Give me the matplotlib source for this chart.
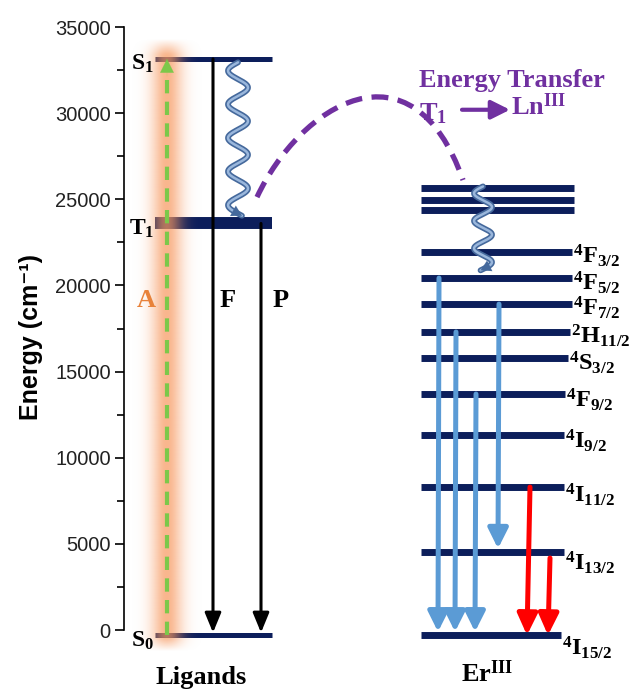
import numpy as np
import matplotlib.pyplot as plt
from matplotlib.path import Path
from matplotlib.patches import PathPatch

plt.rcParams['mathtext.fontset'] = 'custom'
plt.rcParams['mathtext.rm'] = 'Liberation Serif:bold'
plt.rcParams['mathtext.it'] = 'Liberation Serif:bold'
plt.rcParams['mathtext.bf'] = 'Liberation Serif:bold'

# ligand states (cm-1)
lig_names = [r'$\mathrm{S_0}$', r'$\mathrm{T_1}$', r'$\mathrm{S_1}$']
lig_energy = [-300, 23600, 33150]

# Er(III) levels (cm-1)
er_top = [25650, 24960, 24380]
er_names = [r'$\mathrm{{}^4F_{3/2}}$', r'$\mathrm{{}^4F_{5/2}}$', r'$\mathrm{{}^4F_{7/2}}$',
            r'$\mathrm{{}^2H_{11/2}}$', r'$\mathrm{{}^4S_{3/2}}$', r'$\mathrm{{}^4F_{9/2}}$',
            r'$\mathrm{{}^4I_{9/2}}$', r'$\mathrm{{}^4I_{11/2}}$', r'$\mathrm{{}^4I_{13/2}}$',
            r'$\mathrm{{}^4I_{15/2}}$']
er_energy = [21940, 20430, 18920, 17300, 15790, 13700, 11320, 8300, 4530, -300]

# emissions (start, end) in cm-1
blue_from = [20430, 17300, 13700, 18920]
blue_to = [-300, -300, -300, 4530]
red_from = [8300, 4180]
red_to = [-300, -300]

yticks = [0, 5000, 10000, 15000, 20000, 25000, 30000, 35000]

navy = '#0c1e5b'
purple = '#7030a0'

fig = plt.figure(figsize=(6.32, 6.89), dpi=100)
ax = fig.add_axes([0, 0, 1, 1])
ax.set_xlim(0, 632)
ax.set_ylim(-3420, 36570)

# axis
for s in ['top', 'right', 'bottom']:
    ax.spines[s].set_visible(False)
ax.spines['left'].set_position(('data', 124))
ax.spines['left'].set_bounds(0, 35000)
ax.spines['left'].set_linewidth(1.2)
ax.set_xticks([])
ax.set_yticks(yticks)
ax.set_yticks(np.arange(0, 35001, 2500), minor=True)
ax.tick_params(axis='y', which='major', length=6.5, width=1.2, labelsize=14.5, pad=3,
               labelcolor='#222222')
ax.tick_params(axis='y', which='minor', length=5, width=1.2)
for lab in ax.get_yticklabels():
    lab.set_fontfamily('Liberation Sans')
ax.text(31, 17000, 'Energy (cm⁻¹)', rotation=90, ha='center', va='center',
        fontsize=18, fontweight='bold', family=['Liberation Sans', 'DejaVu Sans'])

# ligand levels
lig_lw = [3.6, 8.6, 3.6]
for e, lw in zip(lig_energy, lig_lw):
    ax.plot([155, 272], [e, e], color=navy, lw=lw, solid_capstyle='butt', zorder=2)
for name, e in zip(lig_names, lig_energy):
    ax.text(154, e - 250, name, ha='right', va='center', fontsize=17, zorder=5)

# orange glow behind excitation
gx = np.linspace(130, 205, 150)
gy = np.linspace(-1300, 34300, 300)
GX, GY = np.meshgrid(gx, gy)
alpha = np.exp(-((GX - 167) ** 2) / (2 * 11.0 ** 2))
taper = np.clip((GY + 1300) / 800, 0, 1) * np.clip((34300 - GY) / 900, 0, 1)
img = np.zeros(GX.shape + (4,))
img[..., 0] = 0.97
img[..., 1] = 0.60
img[..., 2] = 0.38
img[..., 3] = 0.72 * alpha * taper
ax.imshow(img, extent=[130, 205, -1300, 34300], origin='lower', aspect='auto', zorder=3,
          interpolation='bilinear')
ax.set_xlim(0, 632)
ax.set_ylim(-3420, 36570)

# absorption (green dashed)
ax.plot([167, 167], [lig_energy[0], lig_energy[2] - 900], color='#7cc84a', lw=3,
        dashes=(3.2, 2.0), zorder=4)
ax.annotate('', xy=(167, lig_energy[2]), xytext=(167, lig_energy[2] - 1000),
            arrowprops=dict(arrowstyle='-|>,head_length=0.7,head_width=0.35', color='#7cc84a',
                            lw=0.1, mutation_scale=14, shrinkA=0, shrinkB=0), zorder=4)
ax.text(146, 19150, 'A', color='#e8823a', fontsize=19, fontweight='bold',
        family='Liberation Serif', ha='center', va='center', zorder=5)

# fluorescence / phosphorescence
for x, e0 in [(213, lig_energy[2]), (261, lig_energy[1])]:
    ax.annotate('', xy=(x, lig_energy[0] + 150), xytext=(x, e0),
                arrowprops=dict(arrowstyle='-|>,head_length=0.85,head_width=0.35', color='black',
                                lw=2.2, mutation_scale=14, shrinkA=0, shrinkB=0), zorder=4)
ax.text(228, 19150, 'F', fontsize=19, fontweight='bold', family='Liberation Serif',
        ha='center', va='center')
ax.text(281, 19150, 'P', fontsize=19, fontweight='bold', family='Liberation Serif',
        ha='center', va='center')


def wavy(xc, e0, e1, amp, lam):
    y = np.linspace(e0, e1, 300)
    x = xc + amp * np.sin(2 * np.pi * (y - e0) / lam)
    ax.plot(x, y, color='#45699c', lw=4.2, zorder=6, solid_capstyle='round')
    ax.plot(x, y, color='#9ab7dc', lw=1.8, zorder=6, solid_capstyle='round')
    ax.annotate('', xy=(x[-1], y[-1]), xytext=(x[-8], y[-8]),
                arrowprops=dict(arrowstyle='-|>,head_length=0.6,head_width=0.35',
                                color='#45699c', lw=0.1, mutation_scale=12,
                                shrinkA=0, shrinkB=0), zorder=6)


wavy(238, lig_energy[2] - 200, lig_energy[1] + 450, 10, 1950)

# Er levels
er_right = [572, 572, 572, 570, 568, 565, 564, 564, 564, 561]
for e in er_top:
    ax.plot([421, 574], [e, e], color=navy, lw=5, solid_capstyle='butt', zorder=2)
for e, r in zip(er_energy, er_right):
    ax.plot([421, r], [e, e], color=navy, lw=5, solid_capstyle='butt', zorder=2)
lab_off = [11, 12, 11, 11, 12, 13, 13, 15, 18, 20]
for name, e, r, off in zip(er_names, er_energy, er_right, lab_off):
    ax.text(r + 1, e - off / 0.017229, name, ha='left', va='baseline', fontsize=17.5)

wavy(483, er_top[0] + 100, er_energy[1] + 450, 9, 1600)

# Er emissions
blue_x = [439, 456, 476, 499]
for x, e0, e1 in zip(blue_x, blue_from, blue_to):
    ax.annotate('', xy=(x - 1, e1 + 200), xytext=(x, e0),
                arrowprops=dict(arrowstyle='-|>,head_length=0.8,head_width=0.4', color='#5b9bd5',
                                lw=3.6, mutation_scale=15, shrinkA=0, shrinkB=0), zorder=4)
red_x = [(530, 527), (550, 548)]
for (x0, x1), e0, e1 in zip(red_x, red_from, red_to):
    ax.annotate('', xy=(x1, e1), xytext=(x0, e0),
                arrowprops=dict(arrowstyle='-|>,head_length=0.85,head_width=0.4', color='#ff0000',
                                lw=3.6, mutation_scale=15, shrinkA=0, shrinkB=0), zorder=4)

# energy transfer curve
verts = [(257, 25130), (300, 30470), (412, 34530), (463, 26120)]
path = Path(verts, [Path.MOVETO, Path.CURVE4, Path.CURVE4, Path.CURVE4])
ax.add_patch(PathPatch(path, fill=False, edgecolor=purple, lw=3.8, linestyle=(0, (3.2, 1.8)),
                       zorder=5))
ax.text(419, 31900, 'Energy Transfer', color=purple, fontsize=19, fontweight='bold',
        family='Liberation Serif', ha='left', va='center')
ax.text(419, 30000, r'$\mathrm{T_1}$', color=purple, fontsize=19, ha='left', va='center')
ax.annotate('', xy=(510, 30200), xytext=(462, 30200),
            arrowprops=dict(arrowstyle='-|>,head_length=0.8,head_width=0.4', color=purple,
                            lw=3, mutation_scale=14, shrinkA=0, shrinkB=0))
ax.text(511, 30350, r'$\mathrm{Ln^{III}}$', color=purple, fontsize=19, ha='left', va='center')

# group labels
ax.text(201, -2730, 'Ligands', fontsize=19, fontweight='bold', family='Liberation Serif',
        ha='center', va='center')
ax.text(487, -2600, r'$\mathrm{Er^{III}}$', fontsize=19, ha='center', va='center')

fig.savefig('out.png', dpi=100)
